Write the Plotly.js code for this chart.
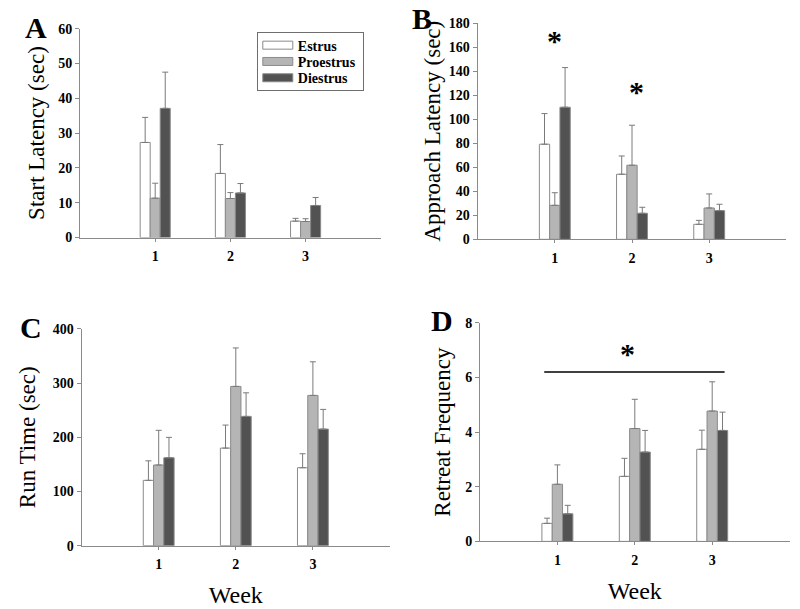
<!DOCTYPE html>
<html>
<head>
<meta charset="utf-8">
<script src="https://cdn.plot.ly/plotly-3.0.1.min.js"></script>
<style>html,body{margin:0;padding:0;background:#fff;}#chart{width:800px;height:609px;}</style>
</head>
<body>
<div id="chart"></div>
<script>
// ---- data ----
const weeks = [1, 2, 3];
const weekLabels = ['1', '2', '3'];
const phases = ['Estrus', 'Proestrus', 'Diestrus'];

// Panel A: Start Latency (sec)
const startEstrus = [27.3, 18.4, 4.7];
const startEstrusErr = [7.2, 8.3, 0.8];
const startProestrus = [11.3, 11.2, 4.6];
const startProestrusErr = [4.3, 1.7, 0.8];
const startDiestrus = [37.1, 12.8, 9.2];
const startDiestrusErr = [10.4, 2.7, 2.3];

// Panel B: Approach Latency (sec)
const apprEstrus = [79.2, 54.2, 12.5];
const apprEstrusErr = [25.5, 15.2, 3.3];
const apprProestrus = [28.3, 61.7, 26.1];
const apprProestrusErr = [10.5, 33.3, 11.7];
const apprDiestrus = [110, 21.7, 23.9];
const apprDiestrusErr = [33, 5, 5.3];

// Panel C: Run Time (sec)
const runEstrus = [120.5, 180, 143.8];
const runEstrusErr = [36, 42.5, 25.8];
const runProestrus = [148.8, 293.8, 277.2];
const runProestrusErr = [64, 71, 62];
const runDiestrus = [162.2, 238.5, 215.1];
const runDiestrusErr = [37.6, 43.5, 36.3];

// Panel D: Retreat Frequency
const retEstrus = [0.66, 2.38, 3.37];
const retEstrusErr = [0.19, 0.66, 0.7];
const retProestrus = [2.09, 4.13, 4.77];
const retProestrusErr = [0.71, 1.07, 1.07];
const retDiestrus = [1.01, 3.27, 4.06];
const retDiestrusErr = [0.31, 0.79, 0.67];

// significance markers
const sigB = {x: [1, 2.06], y: [168, 126]};
const sigDLine = {x0: 0.83, x1: 3.16, y: 6.2};
const sigDStar = {x: 1.9, y: 7.0};

// ---- styles ----
const fills = ['#ffffff', '#b5b5b5', '#525252'];
const outline = '#8a8a8a';
const serif = 'Liberation Serif, Times New Roman, serif';

function bars(vals, errs, idx, xa, ya, showlegend) {
  return {
    type: 'bar', x: weeks, y: vals, name: phases[idx],
    xaxis: xa, yaxis: ya, showlegend: showlegend, legendgroup: phases[idx],
    marker: {color: fills[idx], line: {color: outline, width: 1}},
    error_y: {type: 'data', symmetric: false, array: errs, arrayminus: errs.map(() => 0),
              color: '#7a7a7a', thickness: 1, width: 3},
    hoverinfo: 'x+y'
  };
}

const data = [
  bars(startEstrus, startEstrusErr, 0, 'x', 'y', true),
  bars(startProestrus, startProestrusErr, 1, 'x', 'y', true),
  bars(startDiestrus, startDiestrusErr, 2, 'x', 'y', true),
  bars(apprEstrus, apprEstrusErr, 0, 'x2', 'y2', false),
  bars(apprProestrus, apprProestrusErr, 1, 'x2', 'y2', false),
  bars(apprDiestrus, apprDiestrusErr, 2, 'x2', 'y2', false),
  bars(runEstrus, runEstrusErr, 0, 'x3', 'y3', false),
  bars(runProestrus, runProestrusErr, 1, 'x3', 'y3', false),
  bars(runDiestrus, runDiestrusErr, 2, 'x3', 'y3', false),
  bars(retEstrus, retEstrusErr, 0, 'x4', 'y4', false),
  bars(retProestrus, retProestrusErr, 1, 'x4', 'y4', false),
  bars(retDiestrus, retDiestrusErr, 2, 'x4', 'y4', false)
];

function tickFont() { return {family: serif, size: 14, color: '#000', weight: 'bold'}; }
function xaxis(domain, anchor, title) {
  const ax = {
    domain: domain, anchor: anchor, range: [0, 4], tickmode: 'array',
    tickvals: weeks, ticktext: weekLabels, showgrid: false, zeroline: false,
    showline: true, linecolor: '#8a8a8a', linewidth: 1, ticks: 'outside', ticklen: 3,
    tickcolor: '#8a8a8a', tickfont: tickFont(), ticklabelstandoff: 3, fixedrange: true
  };
  if (title) ax.title = {text: title, font: {family: serif, size: 24, color: '#000'}, standoff: 14};
  return ax;
}
function yaxis(domain, anchor, range, dtick, title, standoff) {
  return {
    domain: domain, anchor: anchor, range: range, dtick: dtick, tick0: 0,
    showgrid: false, zeroline: false, showline: true, linecolor: '#8a8a8a', linewidth: 1,
    ticks: 'outside', ticklen: 4, tickcolor: '#8a8a8a', tickfont: tickFont(), fixedrange: true,
    title: {text: title, font: {family: serif, size: 23, color: '#000'}, standoff: standoff}
  };
}
function letter(t, x, y) {
  return {text: t, xref: 'paper', yref: 'paper', x: x, y: y, xanchor: 'center', yanchor: 'middle',
          showarrow: false, font: {family: serif, size: 30, weight: 'bold', color: '#000'}};
}
function star(xref, yref, x, y) {
  return {text: '*', xref: xref, yref: yref, x: x, y: y, xanchor: 'center', yanchor: 'middle',
          showarrow: false, yshift: -3, font: {family: serif, size: 30, weight: 'bold', color: '#000'}};
}

const layout = {
  width: 800, height: 609,
  margin: {l: 0, r: 0, t: 0, b: 0},
  paper_bgcolor: '#fff', plot_bgcolor: '#fff',
  barmode: 'group', bargap: 0.6, bargroupgap: 0,
  font: {family: serif, color: '#000'},
  xaxis: xaxis([0.1, 0.476], 'y', null),
  yaxis: yaxis([0.610, 0.953], 'x', [0, 60], 10, 'Start Latency (sec)', 7),
  xaxis2: xaxis([0.597, 0.983], 'y2', null),
  yaxis2: yaxis([0.607, 0.962], 'x2', [0, 180], 20, 'Approach Latency (sec)', 1),
  xaxis3: xaxis([0.102, 0.4875], 'y3', 'Week'),
  yaxis3: yaxis([0.104, 0.460], 'x3', [0, 400], 100, 'Run Time (sec)', 10),
  xaxis4: xaxis([0.6, 0.987], 'y4', 'Week'),
  yaxis4: yaxis([0.111, 0.470], 'x4', [0, 8], 2, 'Retreat Frequency', 8),
  showlegend: true,
  legend: {
    x: 0.321, y: 0.948, xanchor: 'left', yanchor: 'top',
    bgcolor: '#fff', bordercolor: '#6e6e6e', borderwidth: 1,
    font: {family: serif, size: 14, color: '#000', weight: 'bold'},
    traceorder: 'normal'
  },
  shapes: [
    {type: 'line', xref: 'x4', yref: 'y4', x0: sigDLine.x0, x1: sigDLine.x1,
     y0: sigDLine.y, y1: sigDLine.y, line: {color: '#000', width: 1.5}}
  ],
  annotations: [
    letter('A', 0.045, 0.955),
    letter('B', 0.528, 0.970),
    letter('C', 0.039, 0.463),
    letter('D', 0.553, 0.474),
    star('x2', 'y2', sigB.x[0], sigB.y[0]),
    star('x2', 'y2', sigB.x[1], sigB.y[1]),
    star('x4', 'y4', sigDStar.x, sigDStar.y)
  ]
};

function tidyLegend(gd) {
  gd.querySelectorAll('.legend .legendpoints path').forEach(function (p) {
    p.setAttribute('d', 'M-15,4H15V-4H-15Z');
  });
  gd.querySelectorAll('.legend .traces').forEach(function (g, i) {
    g.setAttribute('transform', 'translate(1,' + (13.5 + 16.3 * i) + ')');
  });
  gd.querySelectorAll('.legend rect.bg').forEach(function (bg) {
    bg.setAttribute('width', '106');
    bg.setAttribute('height', '58');
    bg.style.width = '106px';
    bg.style.height = '58px';
  });
}

Plotly.newPlot('chart', data, layout, {displayModeBar: false}).then(function (gd) {
  tidyLegend(gd);
});
</script>
</body>
</html>
